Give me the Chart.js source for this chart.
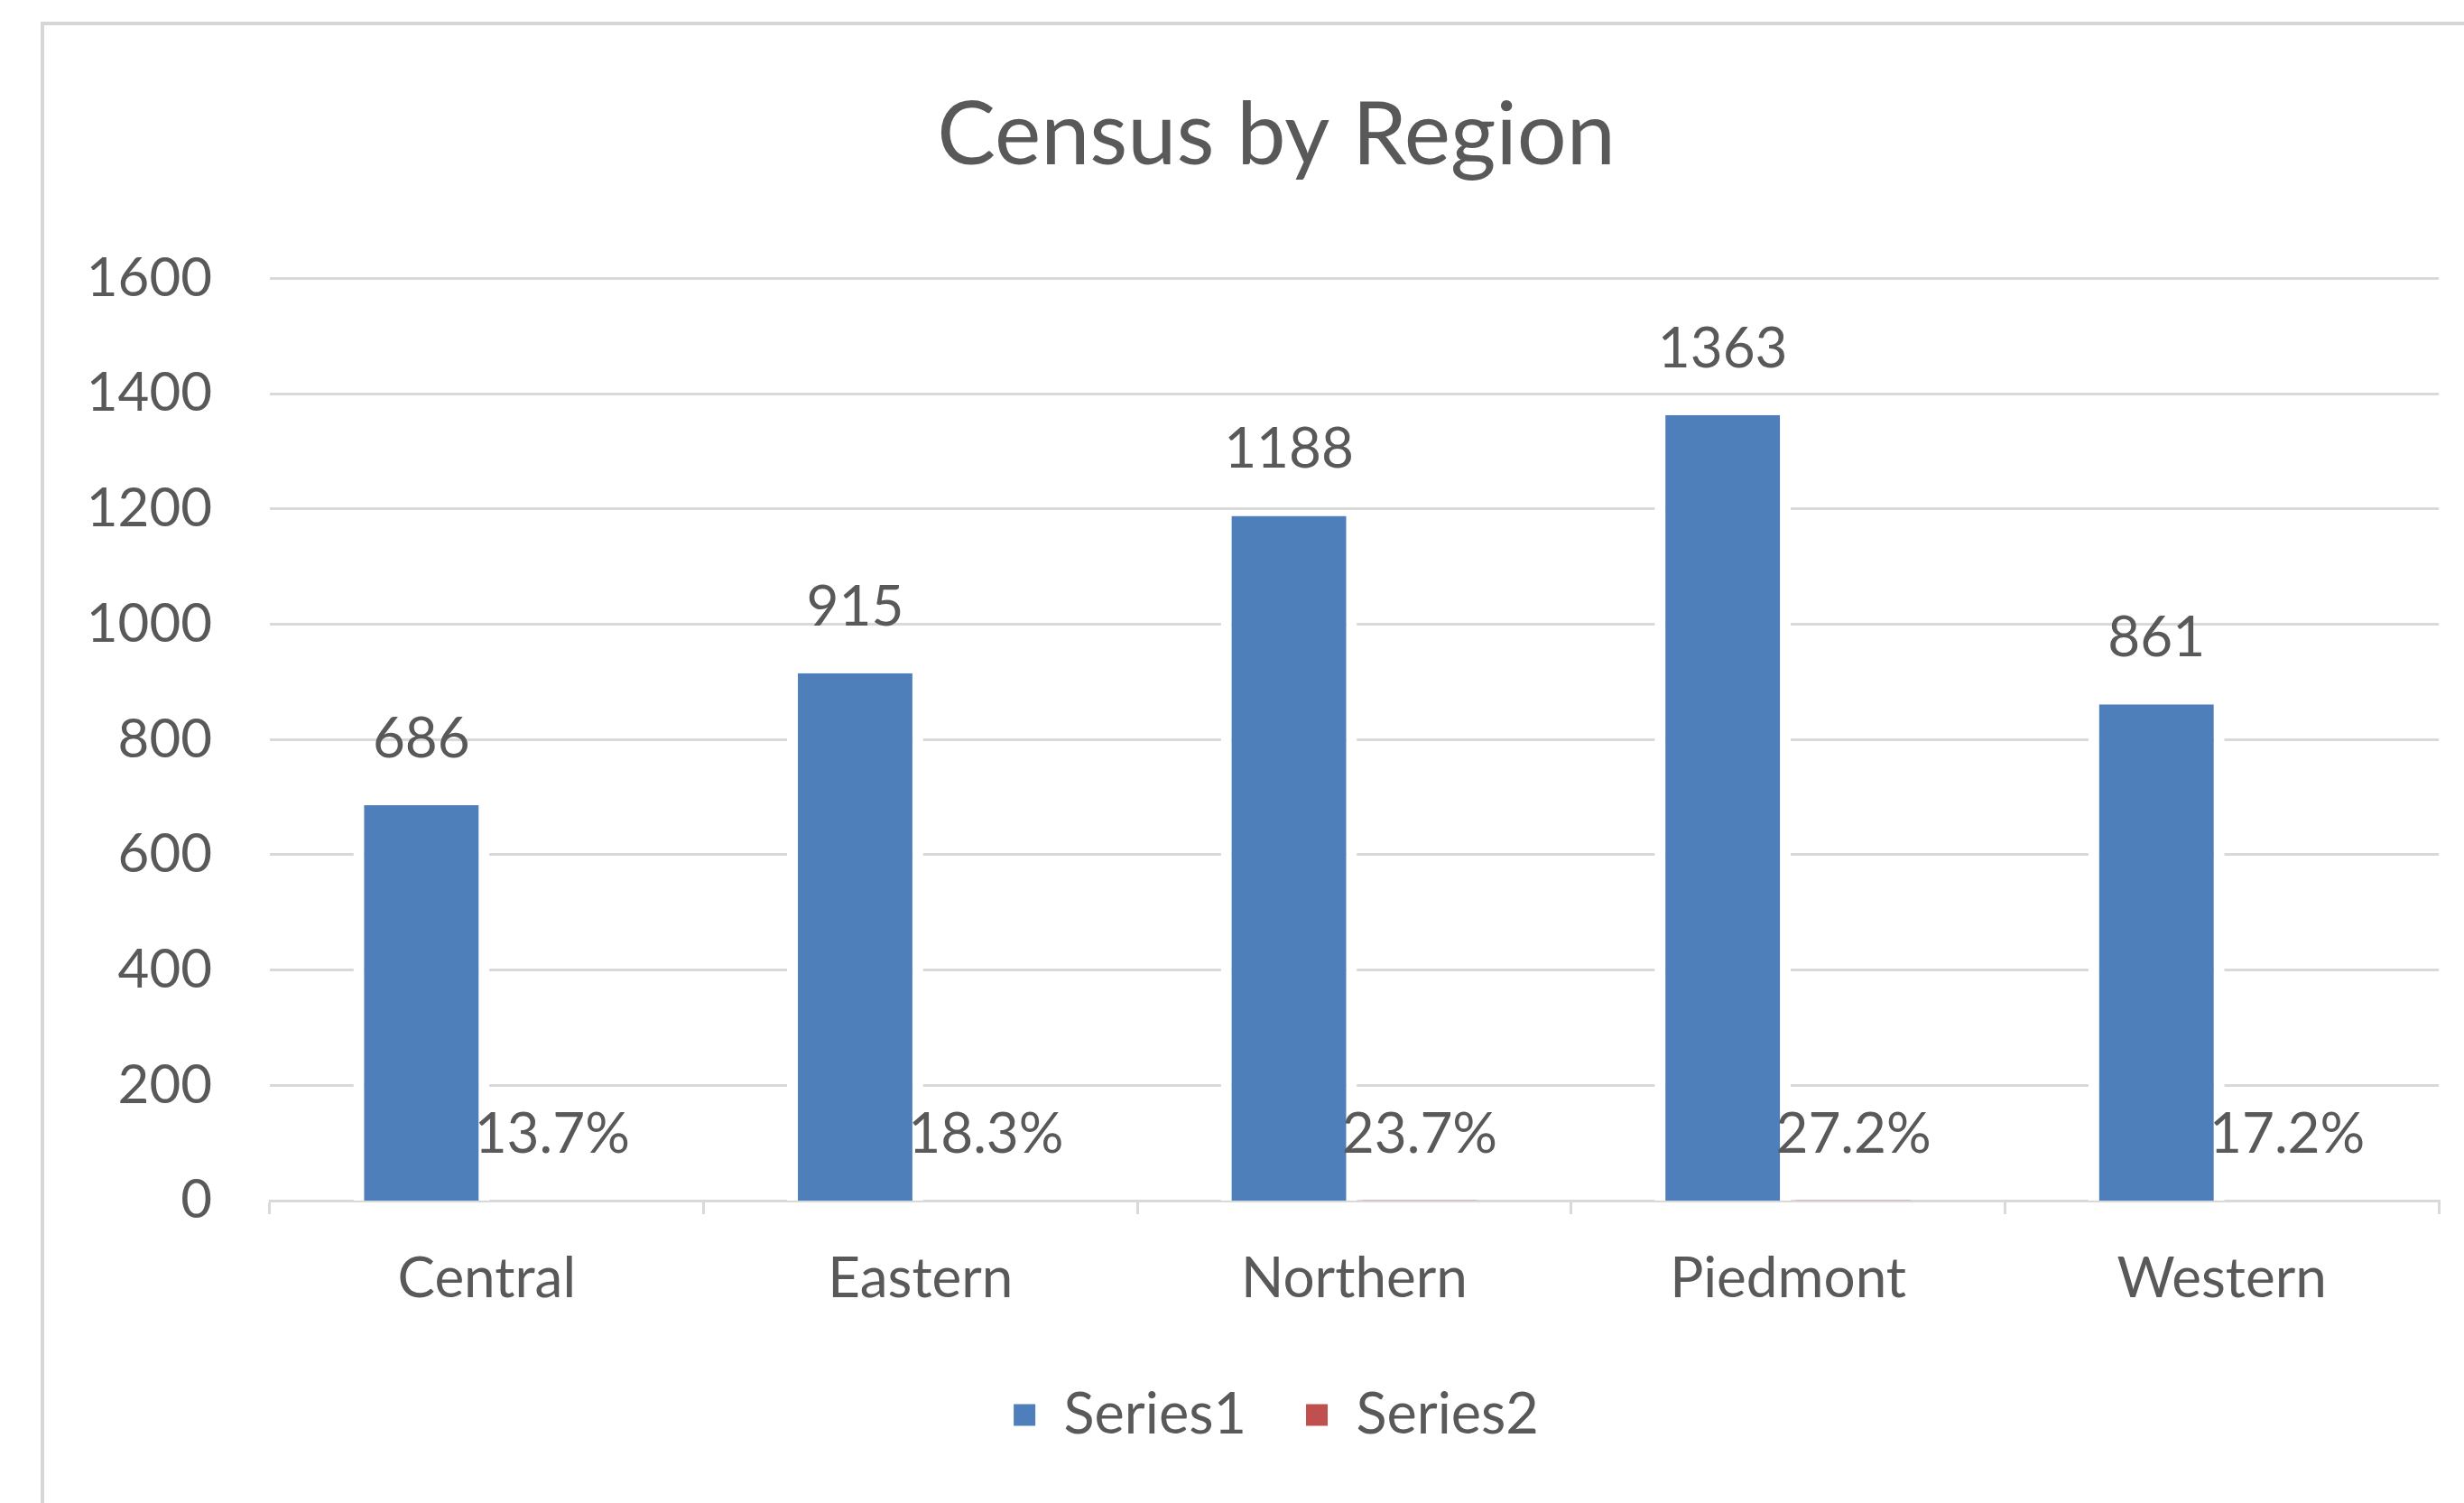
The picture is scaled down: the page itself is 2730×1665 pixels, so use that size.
<!DOCTYPE html>
<html>
<head>
<meta charset="utf-8">
<script src="https://cdn.jsdelivr.net/npm/chart.js@4.4.1/dist/chart.umd.min.js"></script>
<style>
  html, body { margin: 0; padding: 0; background: #fff; }
  .frame { position: absolute; left: 45px; top: 24px; width: 2800px; height: 1800px;
           border-left: 4px solid #d6d6d6; border-top: 4px solid #d6d6d6; }
  .wrap { position: absolute; left: 0; top: 0; width: 2730px; height: 1665px; }
</style>
</head>
<body>
<div class="frame"></div>
<div class="wrap"><canvas id="chart" width="2730" height="1665"></canvas></div>
<script>
// chart data
const regions = ["Central", "Eastern", "Northern", "Piedmont", "Western"];
const series1 = [686, 915, 1188, 1363, 861];
const series2 = [0.137, 0.183, 0.237, 0.272, 0.172];
const yTicks = [0, 200, 400, 600, 800, 1000, 1200, 1400, 1600];

const textGray = "#595959";
const gridGray = "#d9d9d9";

// draws the value above each bar (no datalabels plugin offline)
const barLabels = {
    id: "barLabels",
    afterDatasetsDraw(chart) {
        const ctx = chart.ctx;
        ctx.save();
        ctx.font = "62px Lato";
        ctx.fillStyle = textGray;
        ctx.textAlign = "center";
        ctx.textBaseline = "middle";
        chart.data.datasets.forEach((ds, i) => {
            chart.getDatasetMeta(i).data.forEach((bar, j) => {
                let text = i === 0 ? String(ds.data[j]) : (ds.data[j] * 100).toFixed(1) + "%";
                ctx.fillText(text, bar.x, bar.y - 73);
            });
        });
        ctx.restore();
    }
};

// left padding is only there to center title/legend like the original,
// let the y tick labels use that space instead of being clipped
const widenYAxis = {
    id: "widenYAxis",
    afterLayout(chart) {
        chart.scales.y.left = 0;
    }
};

function drawChart() {
    const ctx = document.getElementById("chart").getContext("2d");
    // white side borders give the little halo the excel bars have over the gridlines
    const halo = { left: 12, right: 12, top: 0, bottom: 0 };
    new Chart(ctx, {
        type: "bar",
        data: {
            labels: regions,
            datasets: [{
                label: "Series1",
                data: series1,
                backgroundColor: "#4f7fbb",
                borderColor: "#ffffff",
                borderWidth: halo,
                borderSkipped: false,
                categoryPercentage: 0.603,
                barPercentage: 1.041
            }, {
                label: "Series2",
                data: series2,
                backgroundColor: "#c0504d",
                inflateAmount: 0,
                categoryPercentage: 0.603,
                barPercentage: 0.876
            }]
        },
        plugins: [barLabels, widenYAxis],
        options: {
            responsive: false,
            animation: false,
            layout: { padding: { left: 126, right: 28, top: 0, bottom: 56 } },
            plugins: {
                tooltip: { enabled: false },
                title: {
                    display: true,
                    text: "Census by Region",
                    color: textGray,
                    font: { family: "Lato", size: 97, weight: "normal", lineHeight: 1.2 },
                    padding: { top: 93, bottom: 99 }
                },
                legend: {
                    position: "bottom",
                    labels: {
                        color: textGray,
                        font: { family: "Lato", size: 63 },
                        boxWidth: 24,
                        boxHeight: 24,
                        padding: 66,
                        generateLabels(chart) {
                            let items = Chart.defaults.plugins.legend.labels.generateLabels(chart);
                            return items.map(item => ({ ...item, lineWidth: 0 }));
                        }
                    }
                }
            },
            scales: {
                x: {
                    z: 1,
                    afterFit(scale) { scale.height = 140; },
                    grid: {
                        offset: true,
                        drawOnChartArea: false,
                        drawTicks: true,
                        tickLength: 15,
                        color: gridGray,
                        lineWidth: 3
                    },
                    border: { color: gridGray, width: 3 },
                    ticks: {
                        color: textGray,
                        padding: 35,
                        font: { family: "Lato", size: 62 }
                    }
                },
                y: {
                    min: yTicks[0],
                    max: yTicks[yTicks.length - 1],
                    afterFit(scale) { scale.width = 173; },
                    afterBuildTicks(scale) { scale.ticks = yTicks.map(v => ({ value: v })); },
                    grid: {
                        color: gridGray,
                        // the zero line is the x axis border
                        lineWidth: (c) => (c.tick && c.tick.value === 0 ? 0 : 3),
                        drawTicks: false
                    },
                    border: { display: false },
                    ticks: {
                        color: textGray,
                        padding: 64,
                        font: { family: "Lato", size: 60 },
                        callback: (v) => String(v)
                    }
                }
            }
        }
    });
}

document.fonts.load("62px Lato").then(drawChart, drawChart);
</script>
</body>
</html>
